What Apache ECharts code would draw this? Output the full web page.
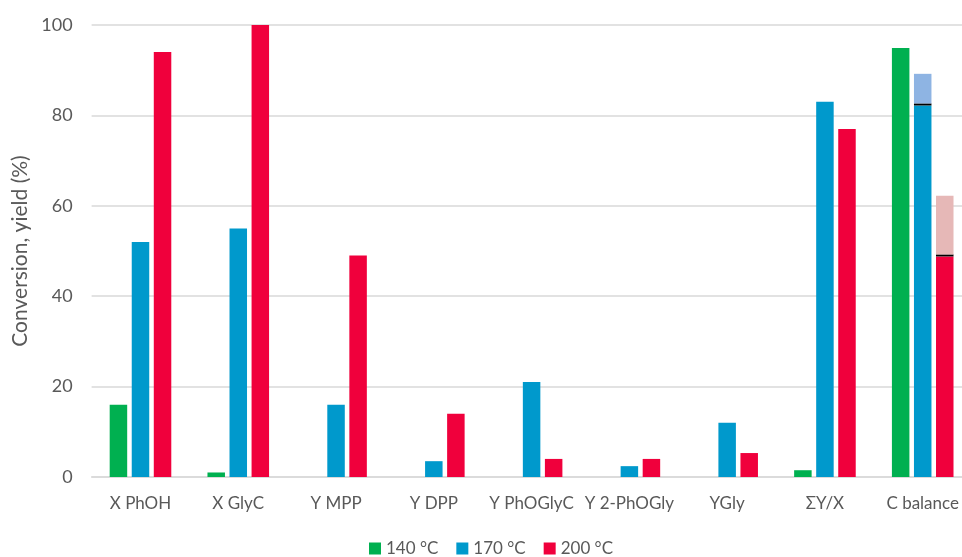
<!DOCTYPE html>
<html><head><meta charset="utf-8">
<script src="https://cdn.jsdelivr.net/npm/echarts@6/dist/echarts.min.js"></script>
<style>html,body{margin:0;padding:0;background:#fff;overflow:hidden;width:962px;height:557px}#c{width:990px;height:557px}</style>
</head><body><div id="c"></div>
<script>
const categories = ['X PhOH','X GlyC','Y MPP','Y DPP','Y PhOGlyC','Y 2-PhOGly','YGly','ΣY/X','C balance'];
const seriesNames = ['140 °C','170 °C','200 °C'];
const v140 = [16, 1, null, null, null, null, null, 1.5, 94.9];
const v170 = [52, 55, 16, 3.5, 21, 2.4, 12, 83, 82.2];
const v200 = [94, 100, 49, 14, 4, 4, 5.3, 77, 48.8];
const sep170 = [null, null, null, null, null, null, null, null, 0.45];
const sep200 = [null, null, null, null, null, null, null, null, 0.45];
const extra170 = [null, null, null, null, null, null, null, null, 6.55];
const extra200 = [null, null, null, null, null, null, null, null, 12.95];
const yTicks = [0, 20, 40, 60, 80, 100];

const C = {g:'#00B050', b:'#0099CC', r:'#F0003C', lb:'#8EB4E3', pk:'#E6B8B7', k:'#000000'};
const font = 'Lato, "Open Sans", sans-serif';
const chart = echarts.init(document.getElementById('c'));
const bw = 17.5;
function bar(name, data, color, stack) {
  const s = {name, type:'bar', data, barWidth:bw, barGap:'26%', itemStyle:{color}, emphasis:{disabled:true}};
  if (stack) s.stack = stack;
  return s;
}
chart.setOption({
  animation:false,
  textStyle:{fontFamily:font},
  grid:{left:91.6, top:25, width:880, height:452},
  legend:{data:seriesNames, top:540, left:369, padding:0, itemWidth:12, itemHeight:12, itemGap:18,
    icon:'rect', textStyle:{fontSize:17, color:'#595959', fontFamily:font}},
  xAxis:{type:'category', data:categories,
    axisLine:{lineStyle:{color:'#D9D9D9', width:1.5}}, axisTick:{show:false},
    axisLabel:{color:'#595959', fontSize:17, margin:18, interval:0, fontFamily:font}},
  yAxis:{type:'value', min:yTicks[0], max:yTicks[yTicks.length-1], interval:20,
    name:'Conversion, yield (%)', nameLocation:'middle', nameGap:57, nameRotate:90,
    nameTextStyle:{color:'#595959', fontSize:21, fontFamily:font},
    axisLine:{show:false}, axisTick:{show:false},
    splitLine:{lineStyle:{color:'#D9D9D9', width:1.5}},
    axisLabel:{color:'#595959', fontSize:18, margin:19, fontFamily:font}},
  series:[
    bar(seriesNames[0], v140, C.g),
    bar(seriesNames[1], v170, C.b, 'b'),
    bar('sep170', sep170, C.k, 'b'),
    bar('extra170', extra170, C.lb, 'b'),
    bar(seriesNames[2], v200, C.r, 'r'),
    bar('sep200', sep200, C.k, 'r'),
    bar('extra200', extra200, C.pk, 'r')
  ]
});
</script></body></html>
